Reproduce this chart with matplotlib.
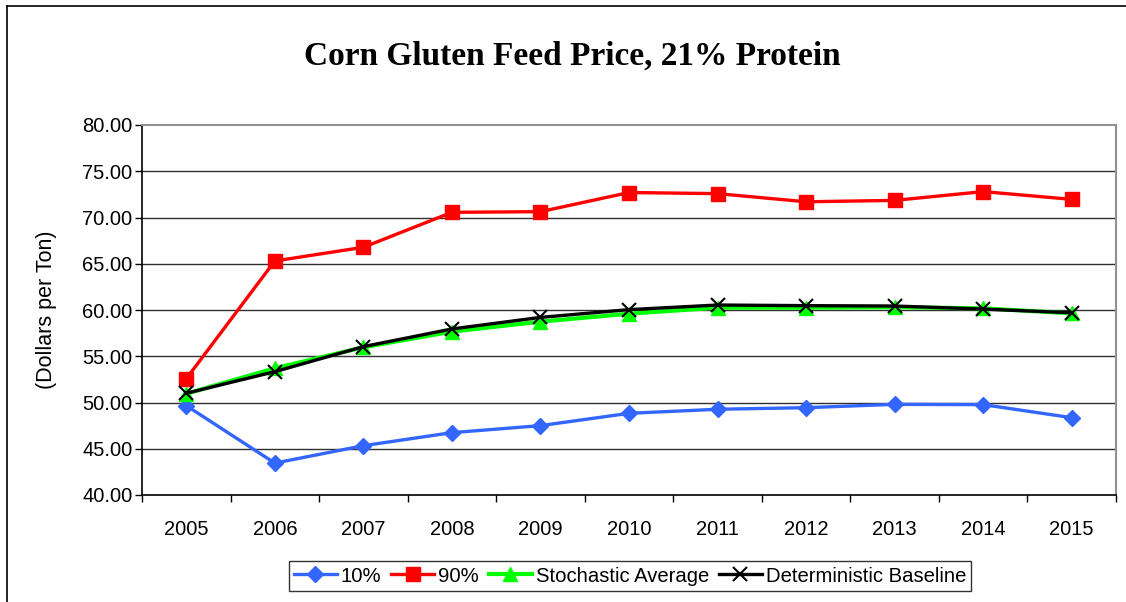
import matplotlib
matplotlib.use("Agg")
import matplotlib.pyplot as plt
from matplotlib.lines import Line2D

years = ["2005", "2006", "2007", "2008", "2009", "2010", "2011", "2012", "2013", "2014", "2015"]
p10 = [49.66, 43.45, 45.33, 46.74, 47.50, 48.83, 49.27, 49.44, 49.80, 49.77, 48.36]
p90 = [52.57, 65.30, 66.78, 70.56, 70.63, 72.70, 72.58, 71.70, 71.85, 72.80, 71.96]
stoch = [50.95, 53.70, 55.97, 57.66, 58.74, 59.60, 60.25, 60.25, 60.30, 60.18, 59.64]
determ = [51.00, 53.33, 56.04, 57.95, 59.20, 60.04, 60.54, 60.47, 60.43, 60.10, 59.70]
yticks = [40, 45, 50, 55, 60, 65, 70, 75, 80]

W, H = 1126, 602
fig = plt.figure(figsize=(W / 100, H / 100), dpi=100)
fig.patch.set_facecolor("white")

# outer chart border
fig.add_artist(Line2D([7 / W, 7 / W], [0, 1 - 6 / H], transform=fig.transFigure, color="black", lw=1.2))
fig.add_artist(Line2D([7 / W, 1], [1 - 6 / H, 1 - 6 / H], transform=fig.transFigure, color="black", lw=1.2))

ax = fig.add_axes([142 / W, 1 - 495 / H, (1116 - 142) / W, (495 - 125) / H])
x = list(range(len(years)))

ax.set_ylim(40, 80)
ax.set_xlim(-0.5, len(years) - 0.5)
ax.set_yticks(yticks)
ax.set_yticklabels([f"{v:.2f}" for v in yticks], fontsize=14.5, family="Liberation Sans")
ax.set_xticks(x)
ax.set_xticklabels(years, fontsize=14.5, family="Liberation Sans")
ax.tick_params(axis="x", length=0, pad=18)
ax.set_xticks([i - 0.5 for i in range(len(years) + 1)], minor=True)
ax.tick_params(axis="x", which="minor", length=5, width=1, direction="out")
ax.tick_params(axis="y", length=5, width=1, direction="out", pad=2)

for v in yticks[1:-1]:
    ax.axhline(v, color="#303030", lw=1, zorder=1)

for s in ["top", "right"]:
    ax.spines[s].set_color("#909090")
    ax.spines[s].set_linewidth(1.5)
for s in ["left", "bottom"]:
    ax.spines[s].set_color("black")
    ax.spines[s].set_linewidth(1.2)

lw = 2.4
ax.plot(x, p10, color="#3366FF", lw=lw, marker="D", ms=8, label="10%", zorder=3)
ax.plot(x, p90, color="#FF0000", lw=lw, marker="s", ms=10, label="90%", zorder=3)
ax.plot(x, stoch, color="#00FF00", lw=lw + 0.6, marker="^", ms=10, label="Stochastic Average", zorder=4)
ax.plot(x, determ, color="black", lw=lw, marker="x", ms=10, mew=1.5, label="Deterministic Baseline", zorder=5)

ax.set_ylabel("(Dollars per Ton)", fontsize=15.5, family="Liberation Sans")
ax.yaxis.set_label_coords(-(142 - 47) / (1116 - 142), 0.5)
ax.yaxis.label.set_va("center")

fig.text(572 / W, 1 - 56 / H, "Corn Gluten Feed Price, 21% Protein", ha="center", va="center",
         fontsize=24, fontweight="bold", family="Liberation Serif")

leg = fig.legend(loc="center", bbox_to_anchor=(630 / W, 1 - 576 / H), ncol=4, frameon=True,
                 fancybox=False, edgecolor="black", prop={"family": "Liberation Sans", "size": 14.6},
                 handlelength=2.1, handletextpad=0.2, columnspacing=0.5, borderpad=0.25)
leg.get_frame().set_linewidth(1.0)

fig.savefig("out.png", dpi=100, facecolor="white")
